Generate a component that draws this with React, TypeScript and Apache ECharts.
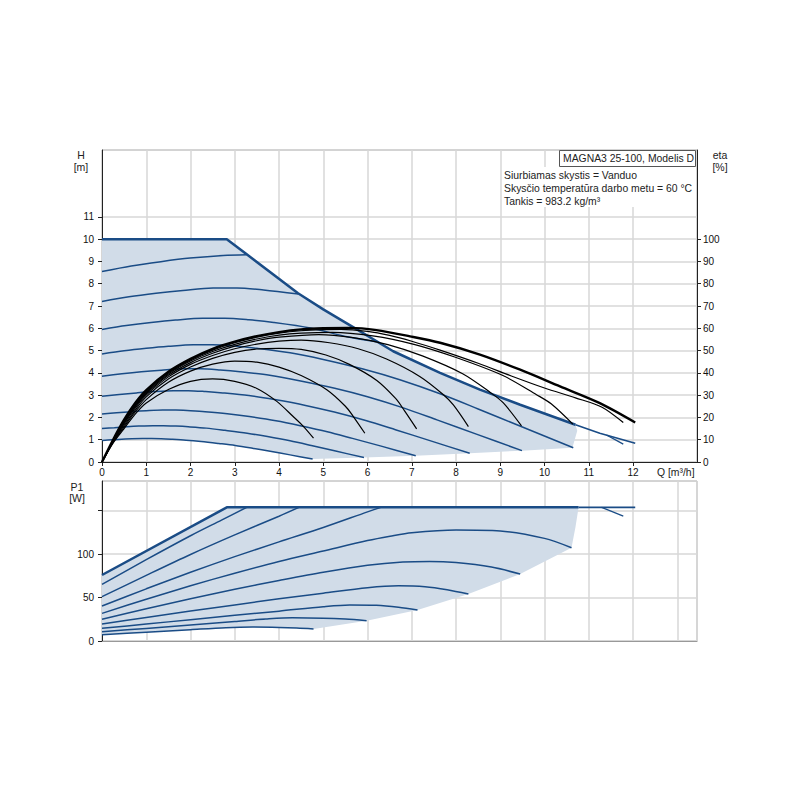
import React, { useEffect, useRef } from "react";
import * as echarts from "echarts";

// ---------- Axis ticks ----------
const Q_TICKS = [0, 1, 2, 3, 4, 5, 6, 7, 8, 9, 10, 11, 12];
const H_TICKS = [0, 1, 2, 3, 4, 5, 6, 7, 8, 9, 10, 11];
const ETA_TICKS = [0, 10, 20, 30, 40, 50, 60, 70, 80, 90, 100];
const P_TICKS = [0, 50, 100, 150];
const P_LABELS = [0, 50, 100];

// ---------- Head curves H [m] vs Q [m3/h] ----------
const H_MAX = [[0, 10], [2.82, 10], [3.27, 9.32], [4.43, 7.57], [5.0, 6.85], [5.76, 5.95], [6.58, 4.97], [7.64, 4.0], [8.54, 3.25], [9.45, 2.57], [10.7, 1.67]];
const H_MAX_TAIL = [[10.7, 1.67], [11.25, 1.29], [12.05, 0.84]];
const H_MAX_BRANCH = [[11.4, 1.21], [11.78, 0.8]];
const H_C1 = [[0, 8.55], [0.66, 8.8], [1.33, 8.99], [1.99, 9.15], [2.74, 9.27], [3.27, 9.3]];
const H_C2 = [[0, 7.2], [0.61, 7.41], [1.22, 7.57], [1.83, 7.7], [2.51, 7.81], [3.05, 7.81], [3.65, 7.72], [4.44, 7.54]];
const H_C3 = [[0, 5.95], [0.55, 6.12], [1.11, 6.26], [1.66, 6.37], [2.28, 6.45], [2.77, 6.45], [3.32, 6.38], [3.88, 6.26], [4.71, 6.01], [5.54, 5.62], [6.2, 5.4]];
const H_C4 = [[0, 4.85], [0.5, 4.99], [1, 5.1], [1.5, 5.19], [2.06, 5.26], [2.5, 5.26], [3, 5.2], [3.5, 5.1], [4.25, 4.9], [5, 4.6], [5.9, 4.17], [6.73, 3.69], [7.64, 3.06], [8.5, 2.38], [9.5, 1.57], [10.65, 0.64]];
const H_C5 = [[0, 3.85], [0.45, 3.96], [0.89, 4.05], [1.34, 4.12], [1.84, 4.18], [2.23, 4.18], [2.67, 4.13], [3.12, 4.05], [3.79, 3.89], [4.46, 3.65], [5.26, 3.31], [6.0, 2.93], [6.81, 2.43], [7.57, 1.89], [8.46, 1.25], [9.49, 0.51]];
const H_C6 = [[0, 2.95], [0.39, 3.03], [0.78, 3.1], [1.17, 3.16], [1.61, 3.2], [1.95, 3.2], [2.34, 3.16], [2.73, 3.1], [3.32, 2.98], [3.9, 2.8], [4.6, 2.54], [5.25, 2.24], [5.96, 1.86], [6.63, 1.45], [7.41, 0.96], [8.31, 0.39]];
const H_C7 = [[0, 2.15], [0.33, 2.21], [0.67, 2.26], [1.0, 2.3], [1.37, 2.33], [1.67, 2.33], [2.0, 2.3], [2.33, 2.26], [2.83, 2.17], [3.33, 2.04], [3.93, 1.85], [4.48, 1.63], [5.09, 1.36], [5.66, 1.06], [6.33, 0.7], [7.09, 0.28]];
const H_C8 = [[0, 1.5], [0.28, 1.54], [0.56, 1.58], [0.83, 1.61], [1.15, 1.63], [1.39, 1.63], [1.67, 1.61], [1.95, 1.58], [2.36, 1.52], [2.78, 1.42], [3.28, 1.29], [3.74, 1.14], [4.25, 0.95], [4.73, 0.74], [5.28, 0.49], [5.92, 0.2]];
const H_C9 = [[0, 0.97], [0.22, 1.0], [0.45, 1.02], [0.67, 1.04], [0.92, 1.05], [1.12, 1.05], [1.34, 1.04], [1.56, 1.02], [1.9, 0.98], [2.24, 0.92], [2.64, 0.83], [3.01, 0.74], [3.42, 0.61], [3.8, 0.48], [4.25, 0.32], [4.76, 0.13]];
const H_SHADE_EDGE = [[5.92, 0.2], [7.09, 0.28], [8.31, 0.39], [9.49, 0.51], [10.63, 0.64], [10.74, 1.4]];
const H_SPEED = [H_C1, H_C2, H_C3, H_C4, H_C5, H_C6, H_C7, H_C8, H_C9];

// ---------- Efficiency curves eta [%] vs Q ----------
const ETA_1 = [[0, 0], [0.25, 8.5], [0.5, 15], [0.75, 21.5], [1, 26.5], [1.5, 32.5], [2, 36.2], [2.5, 37.3], [3, 36.2], [3.5, 33], [3.95, 27.2], [4.32, 20.4], [4.55, 16], [4.78, 10.7]];
const ETA_2 = [[0, 0], [0.25, 8.8], [0.5, 15.8], [0.75, 22.5], [1, 28], [1.5, 35.8], [2, 40.8], [2.5, 43.9], [3, 45.3], [3.5, 44.8], [4, 42.6], [4.5, 38.8], [5.08, 32.4], [5.5, 25], [5.68, 20.4], [5.94, 12.9]];
const ETA_3 = [[0, 0], [0.25, 9], [0.5, 16.5], [0.75, 23.3], [1, 29.2], [1.5, 37.2], [2, 42.6], [2.5, 46.5], [3, 49.2], [3.5, 50.7], [4, 51], [4.5, 50.5], [5.06, 48], [5.59, 43.8], [6.21, 36.6], [6.64, 28.4], [6.83, 23.2], [7.11, 14.9]];
const ETA_4 = [[0, 0], [0.25, 9.2], [0.5, 17.2], [0.75, 24.2], [1, 30], [1.5, 38.2], [2, 43.8], [2.5, 47.8], [3, 50.8], [3.5, 52.9], [4, 54.2], [4.5, 54.7], [5.14, 53.5], [5.79, 50.8], [6.43, 46.2], [7.18, 38.4], [7.71, 30.3], [7.94, 25.6], [8.28, 15.9]];
const ETA_5 = [[0, 0], [0.25, 9.3], [0.5, 17.6], [0.75, 24.8], [1, 30.6], [1.5, 38.9], [2, 44.6], [2.5, 48.8], [3, 52], [3.5, 54.4], [4, 56], [4.9, 57.2], [5.68, 55.8], [6.46, 52.7], [7.24, 47.6], [8.15, 39.6], [8.79, 31], [9.07, 26.5], [9.48, 16.2]];
const ETA_6 = [[0, 0], [0.25, 9.4], [0.5, 18], [0.75, 25.2], [1, 31.2], [1.5, 39.5], [2, 45.3], [2.5, 49.6], [3, 52.8], [3.5, 55.2], [4, 56.9], [4.5, 57.8], [5.2, 58.2], [6.12, 56.6], [7.05, 52.8], [7.97, 47.1], [9.06, 38.8], [9.82, 30.2], [10.15, 26.1], [10.64, 17]];
const ETA_7 = [[0, 0], [0.25, 9.5], [0.5, 18.4], [0.75, 25.6], [1, 31.7], [1.5, 40], [2, 45.8], [2.5, 50.2], [3, 53.5], [3.5, 56], [4, 57.8], [4.5, 58.9], [5, 59.4], [5.4, 59.5], [6, 58.6], [6.5, 56.8], [7, 54.2], [7.64, 50.2], [8.5, 44.3], [9.25, 38.6], [10, 33.2], [10.7, 28.8], [11.3, 24.6], [11.78, 17.7]];
const ETA_8 = [[0, 0], [0.25, 10], [0.5, 19], [0.75, 26.5], [1, 32.3], [1.5, 40.5], [2, 46.3], [2.5, 50.8], [3, 54], [3.5, 56.5], [4, 58.3], [4.5, 59.5], [5, 60], [5.6, 60.2], [6.2, 59.2], [6.96, 56.4], [7.64, 53.5], [8.54, 48.2], [9.45, 41.4], [10.35, 33.9], [11.25, 26.4], [12.05, 17.7]];
const ETA_THIN = [ETA_1, ETA_2, ETA_3, ETA_4, ETA_5, ETA_6, ETA_7];

// ---------- Power curves P1 [W] vs Q ----------
const P_MAX = [[0, 75.9], [2.82, 153.7], [10.77, 153.7]];
const P_MAX_TAIL = [[10.77, 153.7], [12.05, 153.7]];
const P_MAX_BRANCH = [[11.29, 153.7], [11.78, 143.7]];
const P_C1 = [[0, 65.1], [1, 93.5], [2, 121], [2.7, 139], [3.27, 153.7]];
const P_C2 = [[0, 51], [1, 75.5], [2, 99.5], [3, 122], [4, 143.5], [4.45, 153.7]];
const P_C3 = [[0, 40.2], [1, 60], [2, 79], [3, 97], [4, 114], [5, 130.5], [6, 148.5], [6.3, 153.7]];
const P_C4 = [[0, 31.8], [1, 48], [2, 63.5], [3, 78], [4, 91.5], [5, 103.5], [6, 115.5], [6.51, 120.5], [7, 124.5], [8, 127.6], [9, 126.5], [10, 118], [10.61, 107.3]];
const P_C5 = [[0, 24.9], [1, 37], [2, 48.5], [3, 59.5], [4, 69.5], [5, 79], [6, 87], [6.8, 90.8], [7.4, 91.5], [8, 90.2], [8.8, 85], [9.45, 77]];
const P_C6 = [[0, 19.5], [1, 27], [2, 34.5], [3, 41.5], [4, 48.5], [5, 55], [6, 61.3], [6.7, 63.5], [7.3, 62.5], [7.8, 59], [8.28, 54]];
const P_C7 = [[0, 14.6], [1, 19.5], [2, 24.5], [3, 29.5], [4, 34.3], [5, 39.5], [5.6, 41.5], [6.2, 41], [6.7, 38.7], [7.13, 35.6]];
const P_C8 = [[0, 10.7], [1, 14.5], [2, 18.5], [3, 22.5], [3.7, 25.3], [4.3, 26.8], [5, 26.3], [5.5, 25.2], [5.98, 23.4]];
const P_C9 = [[0, 7.3], [1, 10], [2, 13], [2.8, 15.3], [3.4, 16], [4, 15.6], [4.4, 14.9], [4.78, 13.8]];
const P_SHADE_EDGE = [[5.98, 23.4], [7.13, 35.6], [8.28, 54], [9.45, 77], [10.61, 107.3], [10.7, 131]];
const P_SPEED = [P_C1, P_C2, P_C3, P_C4, P_C5, P_C6, P_C7, P_C8, P_C9];

// ---------- Texts ----------
const MODEL_TEXT = "MAGNA3 25-100, Modelis D";
const INFO_LINES = ["Siurbiamas skystis = Vanduo", "Skysčio temperatūra darbo metu = 60 °C", "Tankis = 983.2 kg/m³"];

const FONT = "Liberation Sans, Arial, sans-serif";
const BLUE = "#1a4c86";
const SHADE = "#d1dce8";
const GRIDC = "#d7d7d7";

const TOP_SHADE = [...H_C9, ...H_SHADE_EDGE, ...[...H_MAX].reverse()];
const BOT_SHADE = [...P_C9, ...P_SHADE_EDGE, ...[...P_MAX].reverse()];

function lineS(data: number[][], xi: number, yi: number, color: string, width: number, smooth: number | boolean) {
  return {
    type: "line",
    xAxisIndex: xi,
    yAxisIndex: yi,
    data,
    smooth,
    symbol: "none",
    showSymbol: false,
    silent: true,
    lineStyle: { color, width },
    emphasis: { disabled: true },
  };
}

function shadeS(points: number[][], xi: number, yi: number) {
  return {
    type: "custom",
    xAxisIndex: xi,
    yAxisIndex: yi,
    data: [[0, 0]],
    silent: true,
    renderItem: (_p: any, api: any) => ({
      type: "polygon",
      shape: { points: points.map((pt) => api.coord(pt)) },
      style: { fill: SHADE, stroke: null },
    }),
  };
}

const labelStyle = { color: "#111", fontSize: 10, fontFamily: FONT };

export default function App() {
  const ref = useRef<HTMLDivElement>(null);
  useEffect(() => {
    if (!ref.current) return;
    const chart = echarts.init(ref.current, null, { renderer: "svg" });
    const series: any[] = [];
    series.push(shadeS(TOP_SHADE, 0, 0));
    series.push(shadeS(BOT_SHADE, 1, 2));
    H_SPEED.forEach((c) => series.push(lineS(c, 0, 0, BLUE, 1.5, 0.3)));
    series.push(lineS(H_MAX, 0, 0, BLUE, 2.5, false));
    series.push(lineS(H_MAX_TAIL, 0, 0, BLUE, 1.6, false));
    series.push(lineS(H_MAX_BRANCH, 0, 0, BLUE, 1.3, false));
    ETA_THIN.forEach((c) => series.push(lineS(c, 0, 1, "#000", 1.2, 0.3)));
    series.push(lineS(ETA_8, 0, 1, "#000", 2.4, 0.3));
    P_SPEED.forEach((c) => series.push(lineS(c, 1, 2, BLUE, 1.5, 0.3)));
    series.push(lineS(P_MAX, 1, 2, BLUE, 2.5, false));
    series.push(lineS(P_MAX_TAIL, 1, 2, BLUE, 1.6, false));
    series.push(lineS(P_MAX_BRANCH, 1, 2, BLUE, 1.3, false));

    const txt = (text: string, x: number, y: number, align = "center", size = 10.4) => ({
      type: "text",
      x,
      y,
      z: 100,
      style: { text, textAlign: align, textVerticalAlign: "middle", fontSize: size, fontFamily: FONT, fill: "#222" },
    });

    const option: any = {
      animation: false,
      backgroundColor: "#fff",
      grid: [
        { left: 102, top: 150, width: 595, height: 312, show: true, borderColor: "#a8a8a8", borderWidth: 1, backgroundColor: "transparent", containLabel: false, outerBoundsMode: "none" },
        { left: 102, top: 481, width: 595, height: 160, show: true, borderColor: "#a8a8a8", borderWidth: 1, backgroundColor: "transparent", containLabel: false, outerBoundsMode: "none" },
      ],
      xAxis: [
        {
          gridIndex: 0, type: "value", min: 0, max: 13.446, interval: 1,
          axisLine: { show: true, onZero: false, lineStyle: { color: "#222", width: 1 } },
          axisTick: { show: true, length: 4, customValues: Q_TICKS, lineStyle: { color: "#222" } },
          axisLabel: { ...labelStyle, margin: 5, customValues: Q_TICKS, formatter: (v: number) => (Q_TICKS.includes(v) ? String(v) : "") },
          splitLine: { show: true, lineStyle: { color: GRIDC, width: 1.5 } },
        },
        {
          gridIndex: 1, type: "value", min: 0, max: 13.446, interval: 1,
          axisLine: { show: true, onZero: false, lineStyle: { color: "#999", width: 1.2 } },
          axisTick: { show: false },
          axisLabel: { show: false },
          splitLine: { show: true, lineStyle: { color: GRIDC, width: 1.5 } },
        },
      ],
      yAxis: [
        {
          gridIndex: 0, type: "value", min: 0, max: 14, interval: 1, position: "left",
          axisLine: { show: true, onZero: false, lineStyle: { color: "#222", width: 1 } },
          axisTick: { show: true, length: 4, customValues: H_TICKS, lineStyle: { color: "#222" } },
          axisLabel: { ...labelStyle, margin: 8, customValues: H_TICKS, formatter: (v: number) => (H_TICKS.includes(v) ? String(v) : "") },
          splitLine: { show: true, lineStyle: { color: GRIDC, width: 1.5 } },
        },
        {
          gridIndex: 0, type: "value", min: 0, max: 140, interval: 10, position: "right",
          axisLine: { show: true, onZero: false, lineStyle: { color: "#222", width: 1 } },
          axisTick: { show: true, length: 4, customValues: ETA_TICKS, lineStyle: { color: "#222" } },
          axisLabel: { ...labelStyle, margin: 6, customValues: ETA_TICKS, formatter: (v: number) => (ETA_TICKS.includes(v) ? String(v) : "") },
          splitLine: { show: false },
        },
        {
          gridIndex: 1, type: "value", min: 0, max: 184, interval: 50, position: "left",
          axisLine: { show: true, onZero: false, lineStyle: { color: "#222", width: 1 } },
          axisTick: { show: true, length: 4, customValues: P_TICKS, lineStyle: { color: "#222" } },
          axisLabel: { ...labelStyle, margin: 8, customValues: P_LABELS, formatter: (v: number) => (P_LABELS.includes(v) ? String(v) : "") },
          splitLine: { show: true, lineStyle: { color: GRIDC, width: 1.5 } },
        },
      ],
      graphic: [
        { type: "rect", z: 90, shape: { x: 502, y: 167, width: 193, height: 40 }, style: { fill: "#fff" } },
        { type: "rect", z: 95, shape: { x: 559.5, y: 150.5, width: 136, height: 16 }, style: { fill: "#fff", stroke: "#555", lineWidth: 1 } },
        txt(MODEL_TEXT, 563, 158.5, "left"),
        txt(INFO_LINES[0], 504, 175.5, "left"),
        txt(INFO_LINES[1], 504, 188.5, "left"),
        txt(INFO_LINES[2], 504, 201.5, "left"),
        txt("H", 81, 155, "center", 10.5),
        txt("[m]", 81, 167, "center", 10.5),
        txt("eta", 720, 155, "center", 10.5),
        txt("[%]", 720, 167, "center", 10.5),
        txt("Q [m³/h]", 657, 472.5, "left"),
        txt("P1", 77, 487, "center", 10.5),
        txt("[W]", 77, 498, "center", 10.5),
      ],
      series,
    };
    chart.setOption(option);
    return () => chart.dispose();
  }, []);
  return <div ref={ref} style={{ position: "absolute", left: 0, top: 0, width: 800, height: 800 }} />;
}
